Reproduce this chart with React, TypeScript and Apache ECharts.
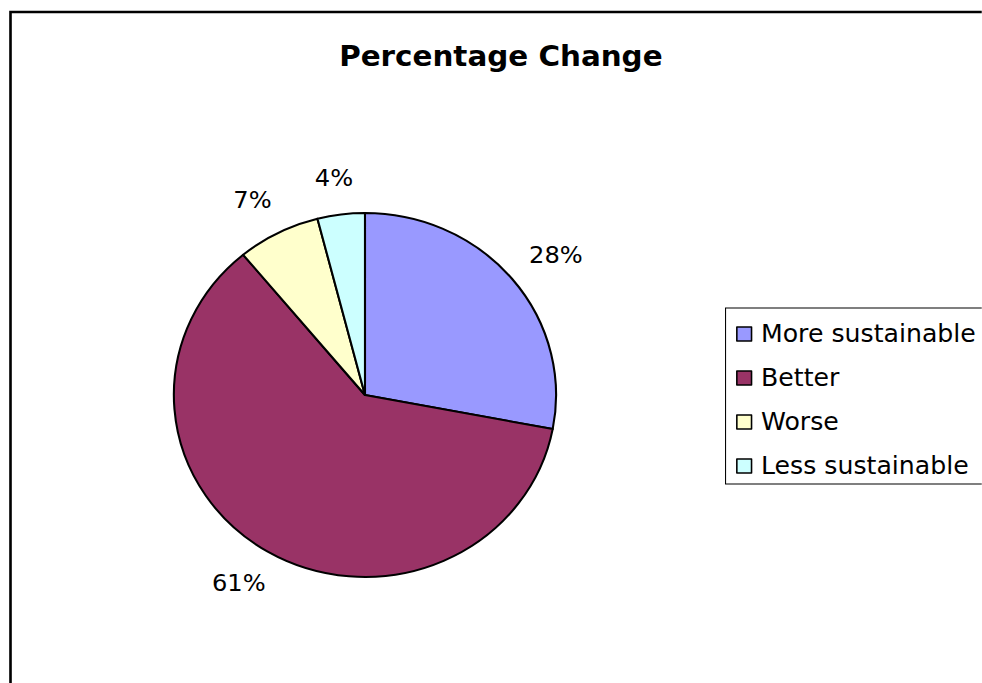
import React, { useEffect, useRef } from "react";
import * as echarts from "echarts";

const categories = ["More sustainable", "Better", "Worse", "Less sustainable"];
const values = [28, 61, 7, 4];
const colors = ["#9999FF", "#993366", "#FFFFCC", "#CCFFFF"];
const titleText = "Percentage Change";

const SX = 1.05;
const W = 935;
const H = 683;
const CX = 347.6;
const CY = 395;
const R = 182;
const LRX = 236;
const LRY = 219;

export default function App() {
  const ref = useRef<HTMLDivElement>(null);
  useEffect(() => {
    if (!ref.current) return;
    const chart = echarts.init(ref.current, undefined, { renderer: "svg" });
    const total = values.reduce((a, b) => a + b, 0);
    const cums: number[] = [];
    let c = 0;
    values.forEach((v) => {
      cums.push(c);
      c += v;
    });
    chart.setOption({
      animation: false,
      backgroundColor: "#ffffff",
      title: {
        text: titleText,
        left: 323,
        top: 42,
        padding: 0,
        textStyle: {
          fontFamily: "DejaVu Sans",
          fontWeight: "bold",
          fontSize: 28,
          color: "#000",
        },
      },
      graphic: [
        {
          type: "rect",
          shape: { x: 10, y: 12, width: 2000, height: 2000 },
          style: { fill: "none", stroke: "#000", lineWidth: 2.5 },
          silent: true,
        },
      ],
      legend: {
        orient: "vertical",
        left: 691,
        top: 308,
        data: categories,
        icon: "rect",
        itemWidth: 14,
        itemHeight: 14,
        itemGap: 20,
        padding: [14, 40, 6, 10],
        borderColor: "#000",
        borderWidth: 1,
        itemStyle: { borderColor: "#000", borderWidth: 1.5 },
        textStyle: {
          fontFamily: "DejaVu Sans",
          fontSize: 24,
          lineHeight: 24,
          color: "#000",
          padding: [0, 0, 0, 4],
        },
      },
      series: [
        {
          type: "pie",
          center: [CX, CY],
          radius: R,
          startAngle: 90,
          clockwise: true,
          data: categories.map((name, i) => ({
            name,
            value: values[i],
            itemStyle: { color: colors[i] },
          })),
          itemStyle: { borderColor: "#000", borderWidth: 2 },
          label: {
            show: true,
            position: "outside",
            formatter: (p: any) => p.value + "%",
            fontFamily: "DejaVu Sans",
            fontSize: 23,
            color: "#000",
          },
          labelLine: { show: false },
          labelLayout: (p: any) => {
            const i = p.dataIndex;
            const a = ((cums[i] + values[i] / 2) / total) * Math.PI * 2;
            return {
              x: CX + Math.sin(a) * LRX,
              y: CY - Math.cos(a) * LRY,
              align: "center",
              verticalAlign: "middle",
            };
          },
          emphasis: { disabled: true },
        },
      ],
    });
    return () => chart.dispose();
  }, []);
  return (
    <div
      style={{
        position: "absolute",
        left: 0,
        top: 0,
        width: W,
        height: H,
        transform: `scaleX(${SX})`,
        transformOrigin: "0 0",
        overflow: "hidden",
      }}
    >
      <div ref={ref} style={{ width: W, height: H }} />
    </div>
  );
}
